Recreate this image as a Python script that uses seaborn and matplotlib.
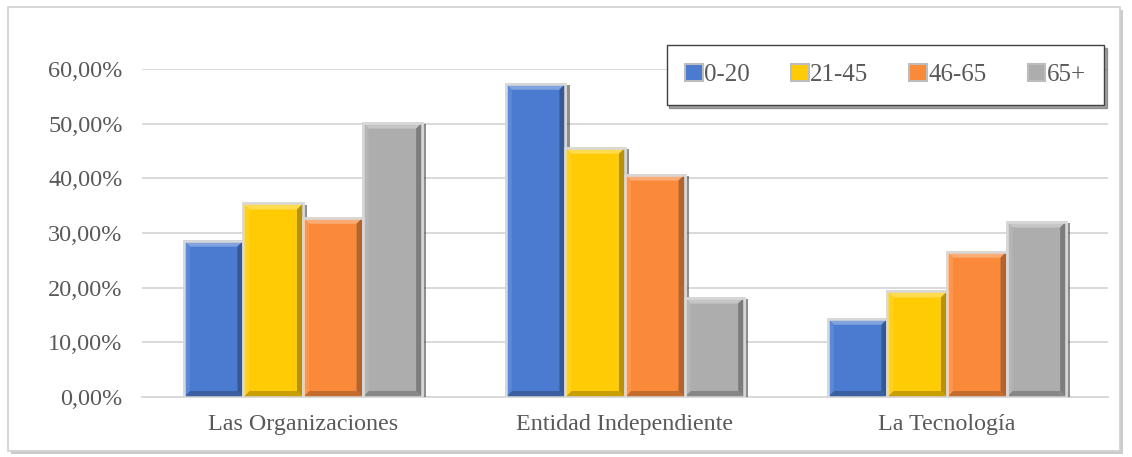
import matplotlib
matplotlib.use("Agg")
import matplotlib.pyplot as plt
import matplotlib.patheffects as pe
from matplotlib.patches import Rectangle, Polygon
from matplotlib.colors import to_rgb
from matplotlib.ticker import FuncFormatter
import seaborn as sns
import pandas as pd
import numpy as np

categories = ["Las Organizaciones", "Entidad Independiente", "La Tecnología"]
groups = ["0-20", "21-45", "46-65", "65+"]
values_0_20 = [0.286, 0.573, 0.143]
values_21_45 = [0.354, 0.456, 0.193]
values_46_65 = [0.328, 0.407, 0.266]
values_65_plus = [0.502, 0.182, 0.321]
colors = ["#4a7bd0", "#ffcb05", "#fa8a3a", "#adadad"]

series = [values_0_20, values_21_45, values_46_65, values_65_plus]
df = pd.DataFrame(
    [(c, g, v) for g, vals in zip(groups, series) for c, v in zip(categories, vals)],
    columns=["categoria", "edad", "valor"],
)

sns.set_theme(style="white")
plt.rcParams["font.family"] = ["Liberation Serif", "DejaVu Serif"]

W, H, DPI = 1132, 457, 100
fig = plt.figure(figsize=(W / DPI, H / DPI), dpi=DPI)
fig.patch.set_facecolor("white")

# outer chart frame with soft shadow, kept behind the axes
frame = Rectangle((8 / W, 6 / H), 1112 / W, 444 / H, transform=fig.transFigure,
                  facecolor="white", edgecolor="#d0d0d0", linewidth=1.2, zorder=-5,
                  path_effects=[pe.SimplePatchShadow(offset=(2, -2), shadow_rgbFace="#bfbfbf", alpha=0.8),
                                pe.Normal()])
fig.patches.append(frame)

ax_w_px, ax_h_px = 1108 - 142, 397 - 69
ax = fig.add_axes([142 / W, 60 / H, ax_w_px / W, ax_h_px / H])
ax.set_facecolor("none")

sns.barplot(data=df, x="categoria", y="valor", hue="edad", hue_order=groups,
            order=categories, palette=colors, width=0.74, ax=ax,
            edgecolor="#d8d8d8", linewidth=1.8, saturation=1, legend=True, zorder=3)

handles, labels = ax.get_legend_handles_labels()
ax.legend_.remove()

ax.set_ylim(0, 0.6)
ax.set_xlim(-0.5, 2.5)


def shade(c, f):
    c = np.array(to_rgb(c))
    return tuple(np.clip(c + (1 - c) * f, 0, 1)) if f > 0 else tuple(np.clip(c * (1 + f), 0, 1))


# bevelled faces, a light rim and a dark side shadow for a raised bar look
bev_x = 6 / (ax_w_px / 3.0)
bev_y = 6 / (ax_h_px / 0.6)
for bar in list(ax.patches):
    bar.set_path_effects([pe.SimplePatchShadow(offset=(3, -1), shadow_rgbFace="#444444", alpha=0.6),
                          pe.Normal()])
    x0, w, h = bar.get_x(), bar.get_width(), bar.get_height()
    if h <= 0:
        continue
    base = bar.get_facecolor()
    x1, y0, y1 = x0 + w, 0.0, h
    ix0, ix1, iy0, iy1 = x0 + bev_x, x1 - bev_x, y0 + bev_y, y1 - bev_y
    faces = [
        ([(x0, y1), (x1, y1), (ix1, iy1), (ix0, iy1)], shade(base, 0.3)),
        ([(x0, y0), (x1, y0), (ix1, iy0), (ix0, iy0)], shade(base, -0.22)),
        ([(x0, y0), (x0, y1), (ix0, iy1), (ix0, iy0)], shade(base, 0.1)),
        ([(x1, y0), (x1, y1), (ix1, iy1), (ix1, iy0)], shade(base, -0.28)),
    ]
    for pts, col in faces:
        ax.add_patch(Polygon(pts, closed=True, facecolor=col, edgecolor="none", zorder=3.5))
    ax.add_patch(Rectangle((x0, y0), w, h, facecolor="none", edgecolor="#d8d8d8",
                           linewidth=1.8, zorder=3.8))

ax.set_yticks([0, 0.1, 0.2, 0.3, 0.4, 0.5, 0.6])
ax.yaxis.set_major_formatter(FuncFormatter(lambda v, _: f"{v * 100:.2f}%".replace(".", ",")))
ax.grid(axis="y", color="#d9d9d9", linewidth=1.4, zorder=0)
ax.set_axisbelow(True)
ax.set_xlabel("")
ax.set_ylabel("")
for s in ["top", "right", "left"]:
    ax.spines[s].set_visible(False)
ax.spines["bottom"].set_color("#d9d9d9")
ax.spines["bottom"].set_linewidth(1.4)
ax.tick_params(axis="y", length=0, labelsize=17.5, labelcolor="#595959", pad=14)
ax.tick_params(axis="x", length=0, labelsize=17.3, labelcolor="#595959", pad=12)

# category separator ticks below the axis
ax.set_xticks([-0.5, 0.5, 1.5, 2.5], minor=True)
ax.tick_params(axis="x", which="minor", length=6, width=1.4, color="#d9d9d9", direction="out")

leg = fig.legend(handles, labels, loc="center",
                 bbox_to_anchor=(665 / W, (457 - 105) / H, 441 / W, 60 / H),
                 ncol=4, frameon=True, fancybox=False, shadow=True,
                 fontsize=18, handlelength=0.7, handleheight=0.7,
                 handletextpad=0.05, columnspacing=1.65, borderpad=0.75)
leg.get_frame().set_edgecolor("#404040")
leg.get_frame().set_linewidth(1.0)
for t in leg.get_texts():
    t.set_color("#595959")
for h in leg.legend_handles:
    h.set_path_effects([])
    h.set_edgecolor("#bdbdbd")
    h.set_linewidth(1.5)

fig.savefig("out.png", dpi=DPI, facecolor="white")
